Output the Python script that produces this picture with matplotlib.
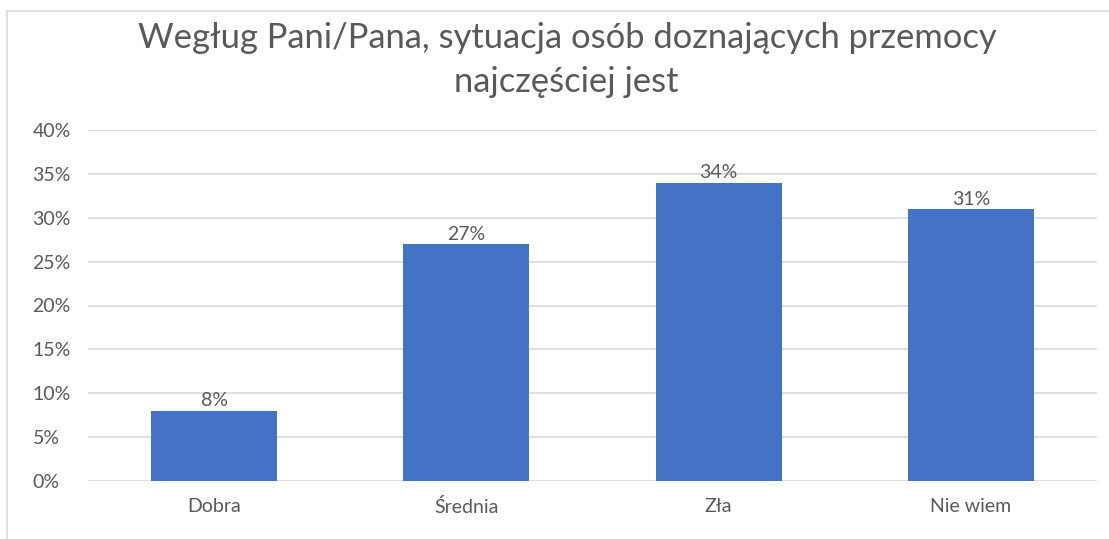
import matplotlib.pyplot as plt
from matplotlib.lines import Line2D
from matplotlib.ticker import FuncFormatter

# ── Data ─────────────────────────────────────────────────────────────────────

categories = ["Dobra", "Średnia", "Zła", "Nie wiem"]
values = [8, 27, 34, 31]
y_ticks = [0, 5, 10, 15, 20, 25, 30, 35, 40]
title_lines = ["Wegług Pani/Pana, sytuacja osób doznających przemocy",
               "najczęściej jest"]

# ── Style ────────────────────────────────────────────────────────────────────

W, H = 1109, 539
BAR_COLOR = "#4472C4"
TEXT_COLOR = "#595959"
GRID_COLOR = "#D9D9D9"
plt.rcParams["font.family"] = ["Lato", "DejaVu Sans"]

fig = plt.figure(figsize=(W / 100, H / 100), dpi=100)
ax = fig.add_axes([88 / W, 58 / H, (1097 - 88) / W, 351 / H])

x = range(len(categories))
bars = ax.bar(x, values, width=0.5, color=BAR_COLOR, zorder=3)

for b, v in zip(bars, values):
    ax.annotate(f"{v}%", xy=(b.get_x() + b.get_width() / 2, v),
                xytext=(0, 1), textcoords="offset points",
                ha="center", va="bottom", fontsize=14, color=TEXT_COLOR)

ax.set_xlim(-0.5, len(categories) - 0.5)
ax.set_ylim(0, 40)
ax.set_yticks(y_ticks)
ax.yaxis.set_major_formatter(FuncFormatter(lambda v, _: f"{v:.0f}%"))
ax.set_xticks(list(x))
ax.set_xticklabels(categories, fontsize=14.5)
ax.tick_params(axis="both", length=0, labelsize=14, colors=TEXT_COLOR)
ax.tick_params(axis="x", pad=12)
ax.tick_params(axis="y", pad=40)
for lbl in ax.get_yticklabels():
    lbl.set_horizontalalignment("left")
ax.grid(axis="y", color=GRID_COLOR, linewidth=1.2, zorder=0)
for s in ax.spines.values():
    s.set_visible(False)

# Title, centred over the chart area
fig.text(567 / W, 1 - 38 / H, title_lines[0], ha="center", va="center",
         fontsize=24.8, color=TEXT_COLOR)
fig.text(566 / W, 1 - 82 / H, title_lines[1], ha="center", va="center",
         fontsize=24.8, color=TEXT_COLOR)

# Light chart-area border (top and left edges visible)
fig.add_artist(Line2D([7 / W, 7 / W], [0, 1 - 11 / H], color=GRID_COLOR,
                      linewidth=1.2, transform=fig.transFigure))
fig.add_artist(Line2D([7 / W, 1], [1 - 11 / H, 1 - 11 / H], color=GRID_COLOR,
                      linewidth=1.2, transform=fig.transFigure))

fig.savefig("out.png", dpi=100, facecolor="white")
